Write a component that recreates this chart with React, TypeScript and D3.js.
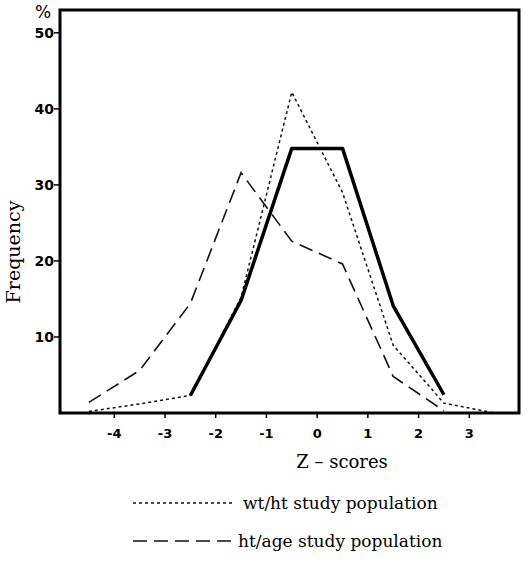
import React from 'react';
import * as d3 from 'd3';

// z-score class midpoints
const zMid = [-4.5, -3.5, -2.5, -1.5, -0.5, 0.5, 1.5, 2.5, 3.5];

// reference (thick solid), from -2.5 to 2.5
const refZ = [-2.5, -1.5, -0.5, 0.5, 1.5, 2.5];
const refVals = [2.3, 14.8, 34.8, 34.8, 14.1, 2.4];

// wt/ht study population (dotted)
const wtHtVals = [0.2, 1.2, 2.3, 15.2, 42.2, 29.0, 8.9, 1.3, 0];

// ht/age study population (dashed)
const htAgeZ = [-4.5, -3.5, -2.5, -1.5, -0.5, 0.5, 1.5, 2.5];
const htAgeVals = [1.4, 5.6, 14.4, 31.6, 22.6, 19.6, 4.8, 0.3];

const xTicks = [-4, -3, -2, -1, 0, 1, 2, 3];
const yTicks = [10, 20, 30, 40, 50];

const App = () => {
  const width = 529;
  const height = 569;
  const margin = { top: 10, right: 10, bottom: 156, left: 60 };
  const innerW = width - margin.left - margin.right;
  const innerH = height - margin.top - margin.bottom;

  const x = d3.scaleLinear().domain([-5.07, 3.98]).range([0, innerW]);
  const y = d3.scaleLinear().domain([0, 53]).range([innerH, 0]);

  const line = d3
    .line<[number, number]>()
    .x((d) => x(d[0]))
    .y((d) => y(d[1]));

  const refPath = line(refZ.map((z, i) => [z, refVals[i]]));
  const wtPath = line(zMid.map((z, i) => [z, wtHtVals[i]]));
  const agePath = line(htAgeZ.map((z, i) => [z, htAgeVals[i]]));

  const tickFont = "'DejaVu Sans', sans-serif";
  const textFont = "'DejaVu Serif', serif";

  return (
    <svg width={width} height={height} style={{ display: 'block', position: 'absolute', left: 0, top: 0 }}>
      <rect width={width} height={height} fill="#fff" />
      <g transform={`translate(${margin.left},${margin.top})`}>
        <path d={wtPath || ''} fill="none" stroke="#111" strokeWidth={1.5} strokeDasharray="3,3" />
        <path d={agePath || ''} fill="none" stroke="#111" strokeWidth={1.6} strokeDasharray="14,7" />
        <path d={refPath || ''} fill="none" stroke="#000" strokeWidth={3.5} strokeLinejoin="round" />

        <rect x={0} y={0} width={innerW} height={innerH} fill="none" stroke="#000" strokeWidth={3} />

        {yTicks.map((t) => (
          <g key={t} transform={`translate(0,${y(t)})`}>
            <line x1={-6} x2={0} stroke="#000" strokeWidth={1.5} />
            <text x={-6} dy="0.35em" textAnchor="end" fontFamily={tickFont} fontWeight="bold" fontSize={14}>
              {t}
            </text>
          </g>
        ))}
        {xTicks.map((t) => (
          <g key={t} transform={`translate(${x(t)},${innerH})`}>
            <line y1={0} y2={5} stroke="#000" strokeWidth={1.5} />
            <text y={25} textAnchor="middle" fontFamily={tickFont} fontWeight="bold" fontSize={13}>
              {t}
            </text>
          </g>
        ))}
        <text x={-17} y={8} textAnchor="middle" fontFamily={tickFont} fontSize={17}>%</text>
      </g>

      <text
        transform="translate(20,252) rotate(-90)"
        textAnchor="middle"
        fontFamily={textFont}
        fontSize={19}
      >
        Frequency
      </text>

      <text x={342} y={468} textAnchor="middle" fontFamily={textFont} fontSize={18}>
        Z – scores
      </text>

      <line x1={133} x2={233} y1={503} y2={503} stroke="#111" strokeWidth={1.5} strokeDasharray="3,3" />
      <text x={243} y={509} fontFamily={textFont} fontSize={17}>wt/ht study population</text>

      <line x1={133} x2={233} y1={541} y2={541} stroke="#111" strokeWidth={1.6} strokeDasharray="14,7" />
      <text x={238} y={547} fontFamily={textFont} fontSize={17}>ht/age study population</text>
    </svg>
  );
};

export default App;
